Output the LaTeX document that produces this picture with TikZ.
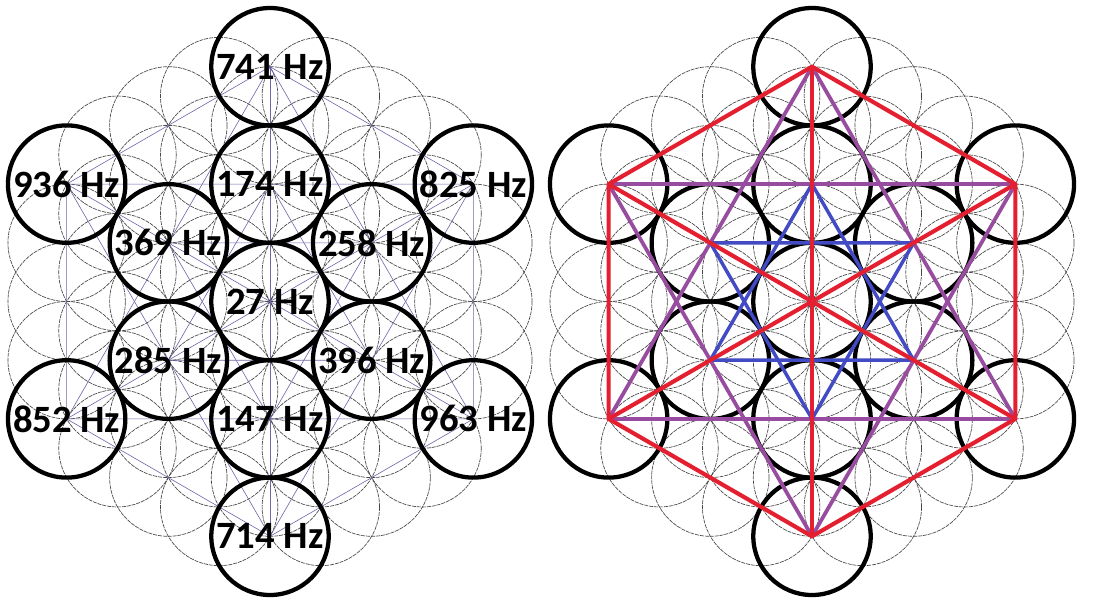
\documentclass[tikz,border=0pt]{standalone}
\usepackage{fontspec}
\setmainfont{Carlito}
\definecolor{mred}{RGB}{228,32,48}
\definecolor{mpurple}{RGB}{152,76,160}
\definecolor{mblue}{RGB}{66,74,196}
\definecolor{mnavy}{RGB}{115,100,170}
\newcommand\myU{58.7}
\newcommand\myCy{301.5}
\newcommand\mkpts[2]{%
  \coordinate (#1c) at (#2,\myCy);
  \foreach \k/\ang in {1/90,2/30,3/-30,4/-90,5/-150,6/150}{
    \coordinate (#1i\k) at ({#2+2*\myU*cos(\ang)},{\myCy-2*\myU*sin(\ang)});
    \coordinate (#1o\k) at ({#2+4*\myU*cos(\ang)},{\myCy-4*\myU*sin(\ang)});
  }}
\newcommand\flowerbg[1]{%
  \foreach \qa in {-4,...,4}{
    \foreach \qb in {-4,...,4}{
      \pgfmathtruncatemacro\qs{abs(\qa+\qb)}
      \ifnum\qs<5
        \draw[flower] ({#1+\qb*\myU*0.8660254},{\myCy-(\qa+0.5*\qb)*\myU}) circle[radius=\myU];
      \fi
    }}}
\newcommand\bigcircles[1]{%
  \foreach \p in {c,i1,i2,i3,i4,i5,i6,o1,o2,o3,o4,o5,o6}{
    \draw[big] (#1\p) circle[radius=\myU];
  }}
\newcommand\cubelines[4]{% prefix, red style, purple style, blue style
  \draw[#3] (#1o1) -- (#1o3) -- (#1o5) -- cycle;
  \draw[#3] (#1o2) -- (#1o4) -- (#1o6) -- cycle;
  \draw[#4] (#1i1) -- (#1i3) -- (#1i5) -- cycle;
  \draw[#4] (#1i2) -- (#1i4) -- (#1i6) -- cycle;
  \draw[#2] (#1o1) -- (#1o2) -- (#1o3) -- (#1o4) -- (#1o5) -- (#1o6) -- cycle;
  \draw[#2] (#1o1) -- (#1o4);
  \draw[#2] (#1o2) -- (#1o5);
  \draw[#2] (#1o3) -- (#1o6);
}
\begin{document}
\begin{tikzpicture}[x=0.75pt,y=-0.75pt,
  flower/.style={line width=0.5pt, black!72, dash pattern=on 3pt off 0.7pt},
  big/.style={line width=3.2pt, black},
  thinln/.style={line width=0.45pt, mnavy},
  redln/.style={line width=3.1pt, mred, line cap=round, line join=round},
  purln/.style={line width=2.8pt, mpurple, line join=round},
  bluln/.style={line width=2.6pt, mblue, line join=round},
  hz/.style={font=\fontsize{29}{29}\selectfont\bfseries, inner sep=0pt, text=black}]
\useasboundingbox (0,0) rectangle (1100,615);
\fill[white] (0,0) rectangle (1100,615);
\mkpts{L}{270}
\mkpts{R}{812}
% left diagram
\flowerbg{270}
\cubelines{L}{thinln}{thinln}{thinln}
\bigcircles{L}
\node[hz] (t27) at (Lc) {27 Hz};
\node[hz] (t174) at (Li1) {174 Hz};
\node[hz] (t258) at (Li2) {258 Hz};
\node[hz] (t396) at (Li3) {396 Hz};
\node[hz] (t147) at (Li4) {147 Hz};
\node[hz] (t285) at (Li5) {285 Hz};
\node[hz] (t369) at (Li6) {369 Hz};
\node[hz] (t741) at (Lo1) {741 Hz};
\node[hz] (t825) at (Lo2) {825 Hz};
\node[hz] (t963) at (Lo3) {963 Hz};
\node[hz] (t714) at (Lo4) {714 Hz};
\node[hz] (t852) at (Lo5) {852 Hz};
\node[hz] (t936) at (Lo6) {936 Hz};
% right diagram
\flowerbg{812}
\bigcircles{R}
\cubelines{R}{redln}{purln}{bluln}
\end{tikzpicture}
\end{document}
